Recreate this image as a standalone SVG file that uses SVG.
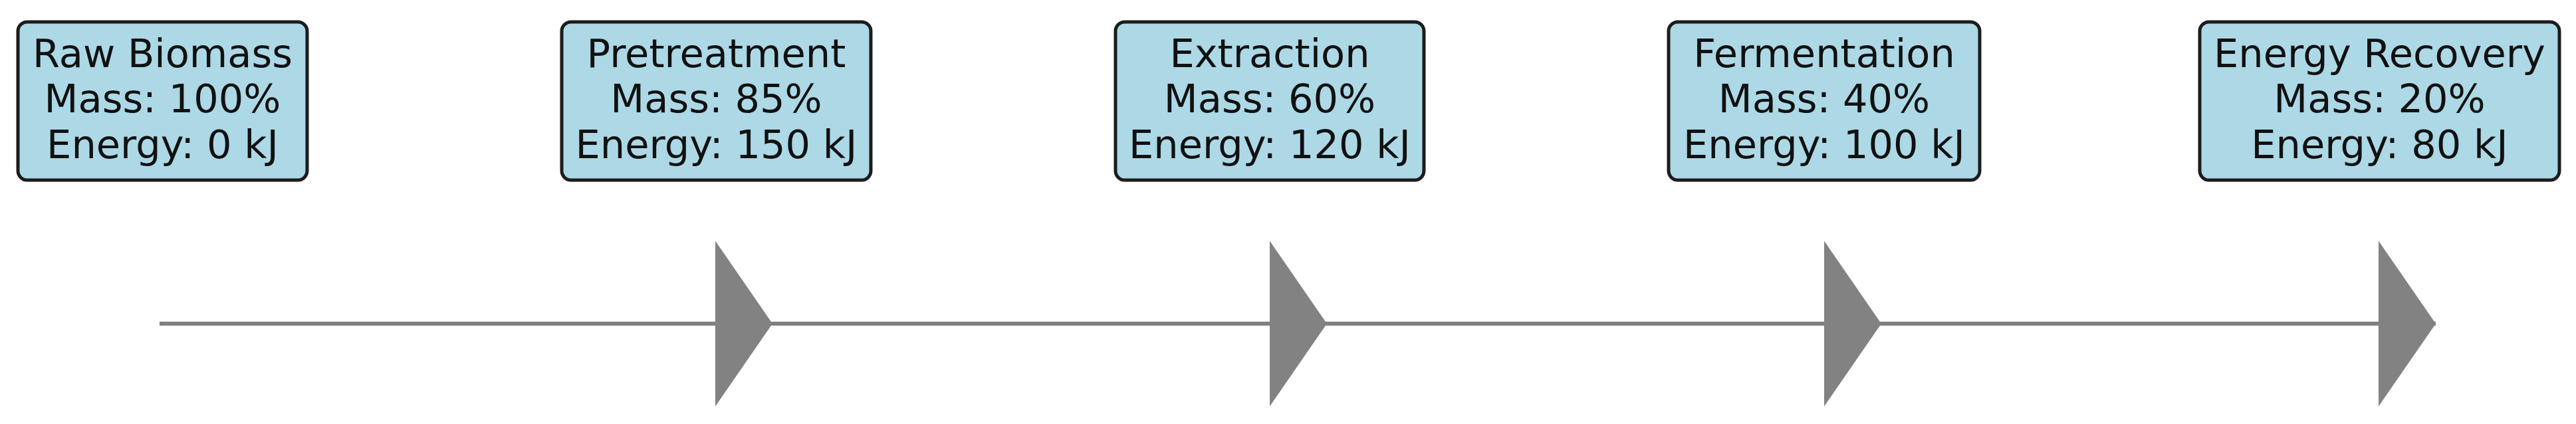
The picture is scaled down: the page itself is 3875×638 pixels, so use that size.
<svg xmlns="http://www.w3.org/2000/svg" width="3875" height="638" viewBox="0 0 3875 638">
<style>
.box{fill:#add8e6;stroke:#1c1c1c;stroke-width:5}
.lbl{font-family:"DejaVu Sans",sans-serif;font-size:59px;fill:#111;text-anchor:middle}
.conn{stroke:#808080;stroke-width:6;fill:none}
</style>
<defs>
<marker id="ah" viewBox="0 0 86 249" refX="86" refY="124.5" markerWidth="86" markerHeight="249" markerUnits="userSpaceOnUse" orient="auto">
<path d="M0,0 L86,124.5 L0,249 Z" fill="#828282"/>
</marker>
</defs>
<rect width="3875" height="638" fill="#fff"/>
<g id="connectors">
<path class="conn" d="M240,487 H1162" marker-end="url(#ah)"/>
<path class="conn" d="M1162,487 H1996" marker-end="url(#ah)"/>
<path class="conn" d="M1996,487 H2830" marker-end="url(#ah)"/>
<path class="conn" d="M2830,487 H3664" marker-end="url(#ah)"/>
</g>
<g id="raw-biomass">
<rect class="box" x="27" y="33" width="435" height="238" rx="14"/>
<text class="lbl" x="244.5" y="101">Raw Biomass</text>
<text class="lbl" x="244.5" y="169">Mass: 100%</text>
<text class="lbl" x="244.5" y="238">Energy: 0 kJ</text>
</g>
<g id="pretreatment">
<rect class="box" x="845" y="33" width="465" height="238" rx="14"/>
<text class="lbl" x="1077.5" y="101">Pretreatment</text>
<text class="lbl" x="1077.5" y="169">Mass: 85%</text>
<text class="lbl" x="1077.5" y="238">Energy: 150 kJ</text>
</g>
<g id="extraction">
<rect class="box" x="1678" y="33" width="464" height="238" rx="14"/>
<text class="lbl" x="1910" y="101">Extraction</text>
<text class="lbl" x="1910" y="169">Mass: 60%</text>
<text class="lbl" x="1910" y="238">Energy: 120 kJ</text>
</g>
<g id="fermentation">
<rect class="box" x="2510" y="33" width="468" height="238" rx="14"/>
<text class="lbl" x="2744" y="101">Fermentation</text>
<text class="lbl" x="2744" y="169">Mass: 40%</text>
<text class="lbl" x="2744" y="238">Energy: 100 kJ</text>
</g>
<g id="energy-recovery">
<rect class="box" x="3309" y="33" width="541" height="238" rx="14"/>
<text class="lbl" x="3579.5" y="101">Energy Recovery</text>
<text class="lbl" x="3579.5" y="169">Mass: 20%</text>
<text class="lbl" x="3579.5" y="238">Energy: 80 kJ</text>
</g>
</svg>
